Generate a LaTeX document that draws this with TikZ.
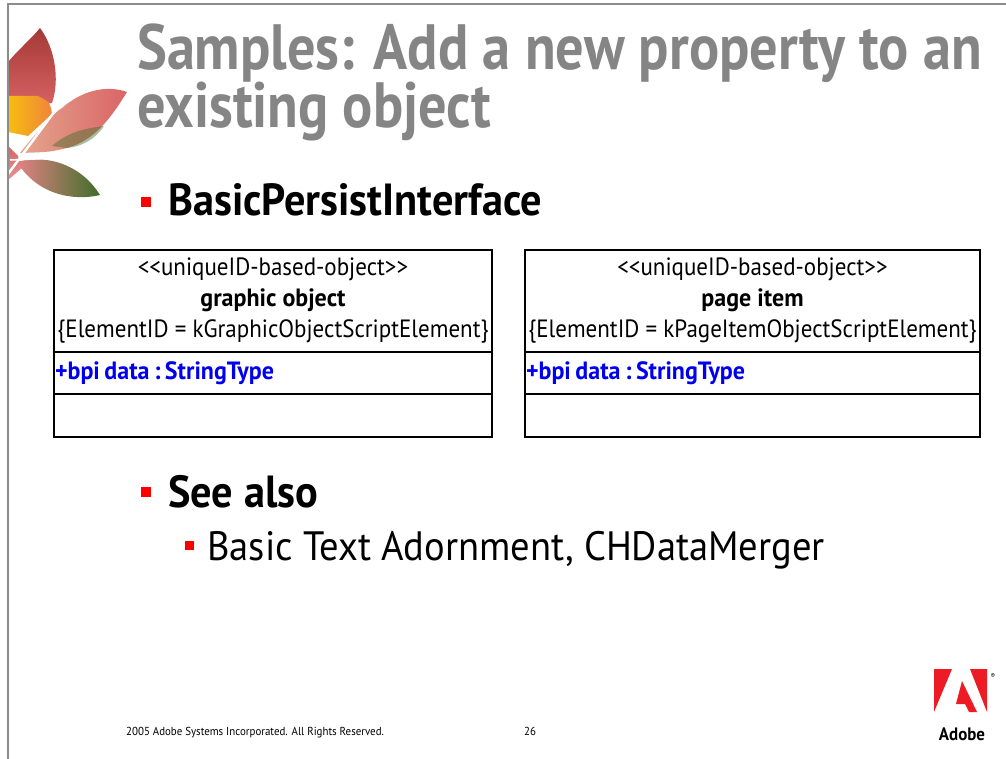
\documentclass[tikz,border=0pt]{standalone}
\usepackage{fontspec}
\setmainfont[FakeStretch=0.94]{PT Sans}
\newfontfamily\titlefont[FakeStretch=0.88]{PT Sans}
\newfontfamily\umlfont[FakeStretch=0.92, BoldFeatures={FakeStretch=0.96}]{PT Sans}
\usetikzlibrary{positioning}

\definecolor{titlegray}{HTML}{858585}
\definecolor{bulletred}{HTML}{FF0000}
\definecolor{attrblue}{HTML}{0000F0}
\definecolor{adobered}{HTML}{ED1C24}
\definecolor{framegray}{HTML}{8C8C8C}
\definecolor{leafred}{HTML}{C0443F}
\definecolor{leafpink}{HTML}{DA6466}
\definecolor{leafpale}{HTML}{EAD2A8}
\definecolor{leafgreen}{HTML}{3F6E2A}
\definecolor{leaforange}{HTML}{F0843A}
\definecolor{leafyellow}{HTML}{F6BE10}

\begin{document}
\begin{tikzpicture}[x=1pt, y=-1pt]
        % Define styles
        \tikzset{
            title/.style={anchor=base west, text=titlegray, font=\titlefont\fontsize{64}{64}\selectfont\bfseries, inner sep=0},
            bullet/.style={fill=bulletred, minimum size=10pt, inner sep=0},
            subbullet/.style={fill=bulletred, minimum size=9pt, inner sep=0},
            point/.style={anchor=base west, font=\fontsize{45}{45}\selectfont\bfseries, inner sep=0},
            subpoint/.style={anchor=base west, font=\fontsize{41}{41}\selectfont, inner sep=0},
            classbox/.style={draw, line width=2.2pt, outer sep=0pt},
            classhead/.style={classbox, minimum height=102pt, align=center, inner sep=0,
                font=\umlfont\fontsize{25}{31}\selectfont},
            classattr/.style={classbox, minimum height=42pt, inner xsep=1pt, inner ysep=0,
                align=left, text=attrblue, font=\umlfont\fontsize{25}{25}\selectfont\bfseries,
                execute at begin node={\frenchspacing\spaceskip=4.5pt\relax}},
            classops/.style={classbox, minimum height=43pt, inner sep=0},
            footer/.style={anchor=base west, font=\fontsize{11.6}{11.6}\selectfont, inner sep=0}
        }

        \useasboundingbox (0,0) rectangle (1006,759);
        \fill[white] (0,0) rectangle (1006,759);

        % Leaf emblem
        \shade[top color=leafred!85!black, bottom color=leafpink] (8,62) .. controls (20,48) and (32,38) .. (40,28)
            .. controls (55,48) and (60,80) .. (52,103) -- (8,110) -- cycle;
        \shade[left color=leafyellow, right color=leaforange] (8,96) -- (38,96)
            .. controls (50,102) .. (52,114) -- (28,136) -- (8,132) -- cycle;
        \shade[left color=leafpale!60!leafpink, right color=leafpink]
            (20,153) .. controls (40,128) and (55,112) .. (62,108) .. controls (80,92) and (105,84) .. (127,92)
            .. controls (112,116) and (96,140) .. (67,148) .. controls (50,152) .. (20,153) -- cycle;
        \fill[leafgreen, opacity=0.45] (52,146) .. controls (70,130) and (90,128) .. (104,126)
            .. controls (95,140) and (80,147) .. (67,148) -- cycle;
        \shade[left color=leafpink!80!white, middle color=leafpale!80!green, right color=leafgreen]
            (17,162) .. controls (40,155) and (78,160) .. (100,195) .. controls (75,201) and (38,196) .. (17,162) -- cycle;
        \shade[top color=leafpink, bottom color=leafpink!70!white] (8,146) -- (18,156) -- (22,168) -- (8,180) -- cycle;
        \draw[white, line width=2.5pt] (8,174) -- (60,104);
        \draw[white, line width=1.5pt] (10,160) -- (60,158);

        % Slide frame
        \draw[framegray, line width=1.5pt] (8,759) -- (8,4) -- (1006,4);

        % Place nodes
        \node[title] (title1) at (137,70) {Samples: Add a new property to an};
        \node[title] (title2) at (137,128) {existing object};

        \node[bullet] (sq1) at (145.5,202) {};
        \node[point] (persist) at (168,216) {BasicPersistInterface};

        \node[classhead, minimum width=438pt] (gohead) at (273,301)
            {<<uniqueID-based-object>>\\\textbf{graphic object}\\\{ElementID = kGraphicObjectScriptElement\}};
        \node[classattr, text width=436pt, anchor=north] (goattr) at (gohead.south) {+bpi data : StringType};
        \node[classops, minimum width=438pt, anchor=north] (goops) at (goattr.south) {};

        \node[classhead, minimum width=455pt] (pihead) at (752.5,301)
            {<<uniqueID-based-object>>\\\textbf{page item}\\\{ElementID = kPageItemObjectScriptElement\}};
        \node[classattr, text width=453pt, anchor=north] (piattr) at (pihead.south) {+bpi data : StringType};
        \node[classops, minimum width=455pt, anchor=north] (piops) at (piattr.south) {};

        \node[bullet] (sq2) at (145.5,492) {};
        \node[point] (seealso) at (168,507) {See also};
        \node[subbullet] (sq3) at (189.5,545) {};
        \node[subpoint] (refs) at (207,560) {Basic Text Adornment, CHDataMerger};

        % Footer
        \node[footer] (copy) at (126,735) {2005 Adobe Systems Incorporated. All Rights Reserved.};
        \node[footer] (page) at (524,735) {26};

        % Adobe logo
        \fill[adobered] (934,669) -- (952,669) -- (934,712) -- cycle;
        \fill[adobered] (970,669) -- (987,669) -- (987,712) -- cycle;
        \fill[adobered] (962,681) -- (977,712) -- (969,712) -- (965,704) -- (956,704) -- cycle;
        \node[font=\fontsize{7}{7}\selectfont, inner sep=0] (reg) at (993,676) {®};
        \node[anchor=base, font=\fontsize{18}{18}\selectfont\bfseries, inner sep=0] (adobe) at (962,740) {Adobe};
    \end{tikzpicture}
\end{document}
